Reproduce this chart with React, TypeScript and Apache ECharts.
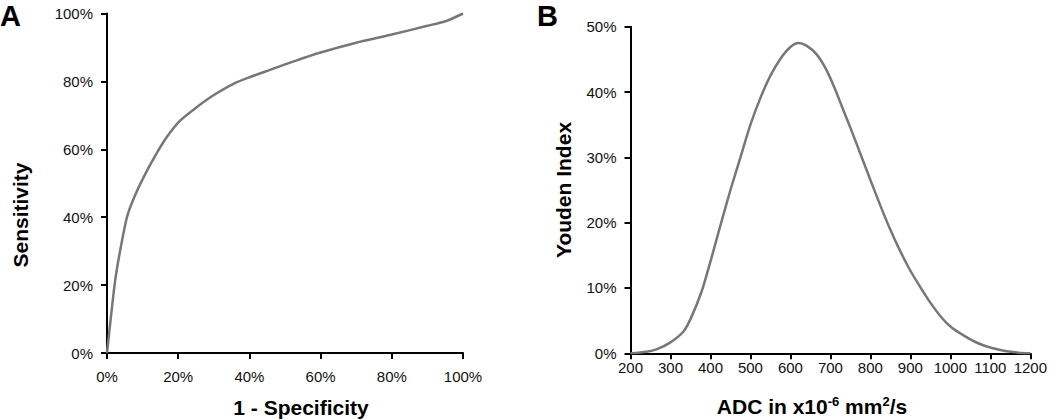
import React, { useEffect, useRef } from "react";
import * as echarts from "echarts";

// Panel A: ROC curve (1 - specificity %, sensitivity %)
const rocFpr = [0, 1.2, 2.3, 3.7, 5.6, 7.5, 10.3, 13.6, 16.8, 20.6, 25.2, 29.9, 35.5, 40.2, 45.8, 53.3, 60, 70, 80, 89.7, 95.3, 100];
const rocTpr = [0, 11.6, 21.4, 30.2, 40, 45.5, 51.8, 58.2, 63.6, 68.5, 72.4, 75.9, 79.3, 81.3, 83.4, 86.2, 88.5, 91.4, 93.8, 96.3, 97.8, 100];

// Panel B: Youden index (%) vs ADC (x10^-6 mm²/s)
const adcValues = [200, 240, 265, 298, 332, 352, 378, 402, 425, 450, 475, 500, 525, 550, 575, 600, 620, 640, 665, 690, 712, 730, 754, 779, 804, 829, 850, 871, 896, 921, 946, 979, 1004, 1037, 1071, 1104, 1137, 1171, 1200];
const youdenValues = [0, 0.25, 0.6, 1.6, 3.3, 5.5, 9.5, 14.5, 19.6, 25, 30, 35, 39.1, 42.5, 45.1, 46.9, 47.5, 47.1, 45.8, 43.4, 40.4, 37.6, 33.9, 29.9, 25.9, 22, 18.9, 16.1, 13.1, 10.5, 8.1, 5.4, 3.9, 2.6, 1.5, 0.8, 0.35, 0.1, 0];

const panelLabels = ["A", "B"];
const axisTitles = ["Sensitivity", "1 - Specificity", "Youden Index"];

const FONT = "'Liberation Sans', Arial, sans-serif";
const LINE_COLOR = "#777777";

export default function App() {
  const ref = useRef<HTMLDivElement>(null);
  useEffect(() => {
    if (!ref.current) return;
    const chart = echarts.init(ref.current, undefined, { renderer: "svg" });
    const axisCommon = {
      axisLine: { show: true, lineStyle: { color: "#000", width: 2 } },
      axisTick: { show: true, inside: false, length: 6, lineStyle: { color: "#000", width: 2 } },
      splitLine: { show: false },
      axisLabel: { color: "#111", fontSize: 15, fontFamily: FONT },
    };
    chart.setOption({
      animation: false,
      backgroundColor: "#fff",
      grid: [
        { left: 107, top: 13.5, width: 356, height: 339.5 },
        { left: 630.5, top: 26.7, width: 402.5, height: 326.6 },
      ],
      xAxis: [
        {
          gridIndex: 0, type: "value", min: 0, max: 100, interval: 20,
          ...axisCommon,
          axisLabel: { ...axisCommon.axisLabel, margin: 16, formatter: (v: number) => v + "%" },
        },
        {
          gridIndex: 1, type: "value", min: 200, max: 1200, interval: 100,
          ...axisCommon,
          axisLabel: { ...axisCommon.axisLabel, margin: 7, formatter: (v: number) => String(v) },
        },
      ],
      yAxis: [
        {
          gridIndex: 0, type: "value", min: 0, max: 100, interval: 20,
          ...axisCommon,
          axisLabel: { ...axisCommon.axisLabel, margin: 14, formatter: (v: number) => v + "%" },
        },
        {
          gridIndex: 1, type: "value", min: 0, max: 50, interval: 10,
          ...axisCommon,
          axisLabel: { ...axisCommon.axisLabel, margin: 14, formatter: (v: number) => v + "%" },
        },
      ],
      series: [
        {
          type: "line", xAxisIndex: 0, yAxisIndex: 0, showSymbol: false, smooth: 0.25,
          lineStyle: { color: LINE_COLOR, width: 2.5 },
          data: rocFpr.map((x, i) => [x, rocTpr[i]]),
        },
        {
          type: "line", xAxisIndex: 1, yAxisIndex: 1, showSymbol: false, smooth: 0.25,
          lineStyle: { color: LINE_COLOR, width: 2.5 },
          data: adcValues.map((x, i) => [x, youdenValues[i]]),
        },
      ],
      graphic: [
        { type: "text", x: 0, y: 1, style: { text: panelLabels[0], font: `bold 29px ${FONT}`, fill: "#000" } },
        { type: "text", x: 537, y: 1, style: { text: panelLabels[1], font: `bold 29px ${FONT}`, fill: "#000" } },
        {
          type: "text", x: 20, y: 215, rotation: Math.PI / 2,
          style: { text: axisTitles[0], font: `bold 21px ${FONT}`, fill: "#000", align: "center", verticalAlign: "middle" },
        },
        {
          type: "text", x: 301, y: 407,
          style: { text: axisTitles[1], font: `bold 21px ${FONT}`, fill: "#000", align: "center", verticalAlign: "middle" },
        },
        {
          type: "text", x: 563, y: 190, rotation: Math.PI / 2,
          style: { text: axisTitles[2], font: `bold 21px ${FONT}`, fill: "#000", align: "center", verticalAlign: "middle" },
        },
        {
          type: "text", x: 812, y: 406,
          style: {
            text: "{b|ADC in x10}{s|-6}{b| mm}{s|2}{b|/s}",
            align: "center", verticalAlign: "middle",
            rich: {
              b: { font: `bold 21px ${FONT}`, fill: "#000", lineHeight: 22, verticalAlign: "bottom" },
              s: { font: `bold 13px ${FONT}`, fill: "#000", lineHeight: 12, verticalAlign: "top" },
            },
          },
        },
      ],
    });
    return () => chart.dispose();
  }, []);
  return (
    <div
      ref={ref}
      style={{ position: "fixed", left: 0, top: 0, width: 1050, height: 419 }}
    />
  );
}
